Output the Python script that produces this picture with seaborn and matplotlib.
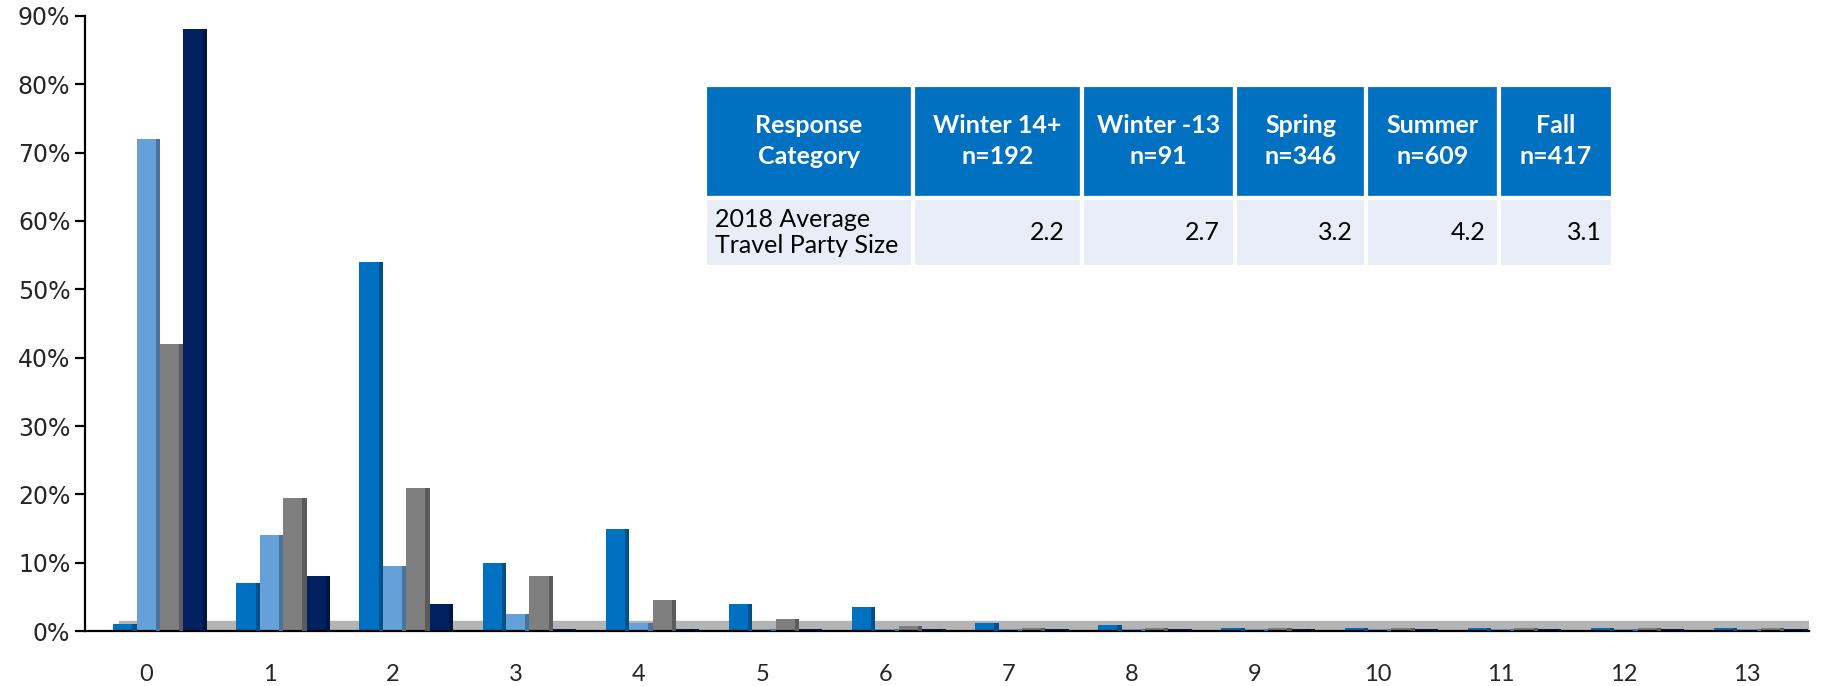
import pandas as pd
import matplotlib
matplotlib.use("Agg")
import matplotlib.pyplot as plt
import seaborn as sns
from matplotlib.ticker import FuncFormatter

# Bar data (percent of respondents)
categories = [str(i) for i in range(14)]
series_names = ["Series 1", "Series 2", "Series 3", "Series 4"]
series_1 = [1.0, 7.0, 54.0, 10.0, 15.0, 4.0, 3.5, 1.2, 0.9, 0.4, 0.4, 0.4, 0.4, 0.4]
series_2 = [72.0, 14.0, 9.5, 2.5, 1.2, 0.3, 0.3, 0.3, 0.3, 0.3, 0.3, 0.3, 0.3, 0.3]
series_3 = [42.0, 19.5, 21.0, 8.0, 4.5, 1.8, 0.7, 0.4, 0.4, 0.4, 0.4, 0.4, 0.4, 0.4]
series_4 = [88.0, 8.0, 4.0, 0.3, 0.3, 0.3, 0.3, 0.3, 0.3, 0.3, 0.3, 0.3, 0.3, 0.3]
bar_colors = ["#0070C0", "#65A0D8", "#7F7F7F", "#002060"]

# Inset table
table_header = ["Response\nCategory", "Winter 14+\nn=192", "Winter -13\nn=91",
                "Spring\nn=346", "Summer\nn=609", "Fall\nn=417"]
table_row = ["2018 Average\nTravel Party Size", "2.2", "2.7", "3.2", "4.2", "3.1"]
col_widths = [176, 143, 130, 111, 112, 97]


def build_frame():
    rows = []
    for name, vals in zip(series_names, [series_1, series_2, series_3, series_4]):
        for cat, v in zip(categories, vals):
            rows.append({"category": cat, "series": name, "value": v})
    return pd.DataFrame(rows)


def plot_chart(df):
    sns.set_style("white")
    plt.rcParams["font.family"] = ["DejaVu Sans"]
    fig = plt.figure(figsize=(18.3, 6.86), dpi=100)
    ax = fig.add_axes([0.0464, 0.080, 0.942, 0.897])

    sns.barplot(data=df, x="category", y="value", hue="series",
                order=categories, hue_order=series_names,
                palette=bar_colors, saturation=1, width=0.76,
                linewidth=0, legend=False, ax=ax, zorder=2)

    # nudge bars right (the original is a 3D view) and add a darker side
    for p in list(ax.patches):
        p.set_x(p.get_x() + 0.11)
        x, w, h = p.get_x(), p.get_width(), p.get_height()
        fc = p.get_facecolor()
        dark = tuple(c * 0.72 for c in fc[:3]) + (1,)
        ax.add_patch(plt.Rectangle((x + w * 0.82, 0), w * 0.18, h,
                                   facecolor=dark, edgecolor="none", zorder=3))

    # grey floor behind the bars
    ax.axhspan(0, 1.5, xmin=0.02, color="#B4B4B4", zorder=0)

    ax.set_xlim(-0.5, 13.5)
    ax.set_ylim(0, 90)
    ax.set_yticks(range(0, 91, 10))
    ax.yaxis.set_major_formatter(FuncFormatter(lambda v, _: f"{v:.0f}%"))
    ax.set_xticks(range(14))
    ax.set_xticklabels(categories, fontsize=17, family="Lato")
    ax.set_xticks([i - 0.5 for i in range(15)], minor=True)
    ax.tick_params(axis="x", which="major", length=0, pad=24)
    ax.tick_params(axis="x", which="minor", length=9, width=1.6,
                   direction="out", color="black")
    ax.tick_params(axis="y", which="major", length=7, width=1.6,
                   direction="out", labelsize=17, color="black", left=True)
    ax.set_xlabel("")
    ax.set_ylabel("")
    for side in ["top", "right"]:
        ax.spines[side].set_visible(False)
    for side in ["left", "bottom"]:
        ax.spines[side].set_color("black")
        ax.spines[side].set_linewidth(1.6)

    # summary table
    tbl = ax.table(cellText=[table_row], colLabels=table_header,
                   colWidths=col_widths, bbox=[0.3596, 0.592, 0.527, 0.296])
    tbl.auto_set_font_size(False)
    for (r, c), cell in tbl.get_celld().items():
        cell.set_edgecolor("white")
        cell.set_linewidth(3)
        if r == 0:
            cell.set_height(0.62)
            cell.set_facecolor("#0070C0")
            cell.set_text_props(color="white", weight="bold", fontsize=18,
                                family="Lato", ha="center", linespacing=1.4)
        else:
            cell.set_height(0.38)
            cell.set_facecolor("#E9EDF7")
            cell.set_text_props(color="black", fontsize=18, family="Lato",
                                linespacing=1.15)
            if c == 0:
                cell._loc = "left"
                cell.PAD = 0.05
                cell.get_text().set_ha("left")
            else:
                cell._loc = "right"
                cell.get_text().set_ha("right")

    fig.savefig("out.png", dpi=100, facecolor="white")


if __name__ == "__main__":
    data = build_frame()
    plot_chart(data)
